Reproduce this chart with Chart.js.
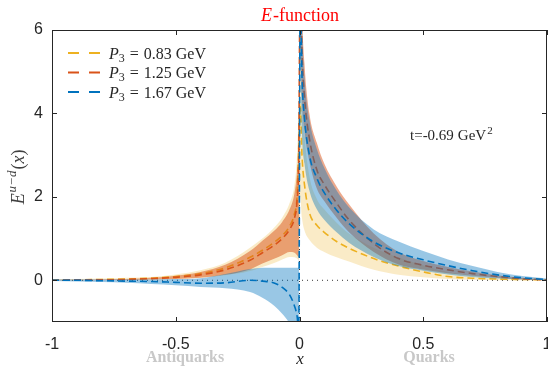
<!DOCTYPE html>
<html><head><meta charset="utf-8">
<script src="https://cdn.jsdelivr.net/npm/chart.js@4"></script>
<style>html,body{margin:0;padding:0;background:#fff}#wrap{width:548px;height:367px}</style>
</head><body><div id="wrap"><canvas id="c" width="548" height="367"></canvas></div>
<script>
// ---- data ----
const xAnti  = [-1,-0.9,-0.8,-0.7,-0.6,-0.5,-0.4,-0.3,-0.2,-0.15,-0.1,-0.07,-0.04,-0.02,-0.01,-0.003];
const xQuark = [0.003,0.01,0.02,0.04,0.07,0.1,0.15,0.2,0.3,0.4,0.5,0.6,0.7,0.8,0.9,1.0];

const p083Mid = [0.01,0.01,0.02,0.03,0.05,0.09,0.16,0.3,0.55,0.72,0.92,1.07,1.3,1.6,2.0,3.2,
                 4.2,3.0,2.3,1.62,1.32,1.15,0.93,0.77,0.52,0.34,0.2,0.09,0.05,0.03,0.02,0.01];
const p083Hi  = [0.03,0.03,0.04,0.06,0.08,0.14,0.24,0.42,0.78,1.0,1.28,1.5,1.85,2.3,3.0,4.3,
                 6.5,4.6,3.5,2.5,1.95,1.7,1.38,1.12,0.78,0.55,0.36,0.2,0.12,0.07,0.04,0.02];
const p083Lo  = [0,0,0.01,0.01,0.02,0.03,0.06,0.12,0.22,0.32,0.42,0.5,0.56,0.55,0.52,0.48,
                 2.0,1.5,1.2,0.97,0.78,0.68,0.55,0.45,0.25,0.13,0.07,0.03,0.01,0,0,0];

const p125Mid = [0,0.01,0.01,0.02,0.04,0.07,0.13,0.25,0.48,0.66,0.85,1.0,1.22,1.5,1.9,3.0,
                 7.5,5.5,4.4,3.4,2.65,2.3,1.85,1.45,0.88,0.52,0.36,0.25,0.16,0.09,0.04,0.01];
const p125Hi  = [0.01,0.01,0.02,0.03,0.06,0.11,0.2,0.37,0.7,0.95,1.2,1.4,1.7,2.1,2.6,3.6,
                 9,6.5,5.2,4.0,3.3,2.8,2.25,1.82,1.12,0.68,0.46,0.32,0.21,0.12,0.06,0.02];
const p125Lo  = [0,0,0,0.01,0.02,0.03,0.06,0.13,0.26,0.4,0.52,0.6,0.68,0.66,0.6,0.55,
                 6,4.4,3.6,2.85,2.2,1.9,1.5,1.15,0.68,0.38,0.26,0.17,0.11,0.06,0.02,0];

const p167Mid = [0,0,-0.01,-0.02,-0.03,-0.05,-0.07,-0.06,0.0,-0.02,-0.07,-0.17,-0.35,-0.62,-0.85,-1.2,
                 7,4.9,3.9,3.0,2.45,2.1,1.68,1.36,0.92,0.66,0.49,0.35,0.23,0.13,0.06,0.02];
const p167Hi  = [0.02,0.02,0.02,0.02,0.02,0.03,0.05,0.15,0.27,0.3,0.3,0.3,0.3,0.3,0.3,0.3,
                 8.5,6.2,4.9,3.85,3.15,2.7,2.15,1.75,1.22,0.93,0.7,0.5,0.34,0.2,0.1,0.04];
const p167Lo  = [-0.02,-0.03,-0.04,-0.06,-0.09,-0.12,-0.16,-0.19,-0.28,-0.42,-0.62,-0.8,-1.05,-1.4,-1.8,-2.5,
                 5.2,3.5,2.8,2.15,1.7,1.45,1.15,0.9,0.56,0.34,0.23,0.14,0.08,0.04,0.02,0];

const seriesLabels = ['0.83','1.25','1.67'];
const xTicks = [-1,-0.5,0,0.5,1];
const xTickLabels = ['-1','-0.5','0','0.5','1'];
const yTicks = [0,2,4,6];
const zeroLineX = [-1,1];
const zeroLineY = [0,0];
const axisLineX = [0,0];
const axisLineY = [-1,6];

// ---- build ----
const xs = xAnti.concat(xQuark);
const pts = arr => arr.map((v,i)=>({x:xs[i], y:v}));
const lineColors = ['#EDB120','#D95319','#0072BD'];
const bandColors = ['rgba(237,177,32,0.25)','rgba(217,83,25,0.5)','rgba(0,114,189,0.4)'];
const mids=[p083Mid,p125Mid,p167Mid], his=[p083Hi,p125Hi,p167Hi], los=[p083Lo,p125Lo,p167Lo];

const datasets = [];
for (let s=0;s<3;s++){
  const base = 30 - s*10;
  datasets.push({data:pts(his[s]), borderWidth:0, pointRadius:0, fill:false, cubicInterpolationMode:'monotone', order:base});
  datasets.push({data:pts(los[s]), borderWidth:0, pointRadius:0, fill:'-1', backgroundColor:bandColors[s], cubicInterpolationMode:'monotone', order:base});
  datasets.push({data:pts(mids[s]), borderColor:lineColors[s], borderWidth:1.6, borderDash:[7,4], pointRadius:0, fill:false, cubicInterpolationMode:'monotone', order:base-1});
}
datasets.push({data:zeroLineX.map((v,i)=>({x:v,y:zeroLineY[i]})), borderColor:'#333', borderWidth:1, borderDash:[1,4], pointRadius:0, fill:false, order:40});
datasets.push({data:axisLineX.map((v,i)=>({x:v,y:axisLineY[i]})), borderColor:'#333', borderWidth:1, borderDash:[1,3], pointRadius:0, fill:false, order:40});

const SERIF = '"Liberation Serif","DejaVu Serif",serif';
const SANS = '"Liberation Sans",Arial,sans-serif';

function runs(ctx, parts, x0, y0){
  let px=x0;
  parts.forEach(p=>{ctx.font=p[0]+SERIF; ctx.fillText(p[1],px,y0+(p[2]||0)); px+=ctx.measureText(p[1]).width+(p[3]||0);});
  return px;
}
function runsWidth(ctx, parts){
  let w=0; parts.forEach(p=>{ctx.font=p[0]+SERIF; w+=ctx.measureText(p[1]).width+(p[3]||0);}); return w;
}

const deco = {
  id:'deco',
  afterDraw(chart){
    const {ctx, chartArea:ca, scales:{x,y}} = chart;
    ctx.save();
    ctx.strokeStyle='#262626'; ctx.lineWidth=1; ctx.setLineDash([]);
    ctx.strokeRect(ca.left+0.5, ca.top+0.5, ca.right-ca.left-1, ca.bottom-ca.top-1);
    ctx.beginPath();
    xTicks.forEach(v=>{const p=Math.round(x.getPixelForValue(v))+0.5;
      ctx.moveTo(p,ca.bottom); ctx.lineTo(p,ca.bottom-5); ctx.moveTo(p,ca.top); ctx.lineTo(p,ca.top+5);});
    yTicks.forEach(v=>{const p=Math.round(y.getPixelForValue(v))+0.5;
      ctx.moveTo(ca.left,p); ctx.lineTo(ca.left+5,p); ctx.moveTo(ca.right,p); ctx.lineTo(ca.right-5,p);});
    ctx.stroke();
    ctx.textBaseline='alphabetic';

    // title
    ctx.fillStyle='#FF0000';
    const tparts=[['italic 18px ','E',0,1],['18px ','-function',0,0]];
    runs(ctx,tparts,300-runsWidth(ctx,tparts)/2,21);

    // legend
    for(let s=0;s<3;s++){
      const ly=53+s*19.5;
      ctx.strokeStyle=lineColors[s]; ctx.lineWidth=2; ctx.setLineDash([11,10]);
      ctx.beginPath(); ctx.moveTo(68,ly); ctx.lineTo(101,ly); ctx.stroke();
      ctx.setLineDash([]);
      ctx.fillStyle='#262626';
      runs(ctx,[['italic 16px ','P',0,0],['12px ','3',3,5],['16px ','=',0,5],['16px ',seriesLabels[s],0,4],['16px ','GeV',0,0]],109,ly+5.5);
    }

    // annotation
    ctx.fillStyle='#262626';
    runs(ctx,[['15px ','t=-0.69',0,4],['15px ','GeV',0,1],['11px ','2',-6,0]],410,140);

    // y title
    ctx.save(); ctx.translate(24,177); ctx.rotate(-Math.PI/2);
    ctx.fillStyle='#404040';
    const yparts=[['italic 18px ','E',0,1],['italic 13px ','u\u2212d',-8,1],['18px ','(',0,0],['italic 18px ','x',0,0],['18px ',')',0,0]];
    runs(ctx,yparts,-runsWidth(ctx,yparts)/2,0);
    ctx.restore();

    // x title and region labels
    ctx.textAlign='center';
    ctx.fillStyle='#262626'; ctx.font='italic 17px '+SERIF; ctx.fillText('x',300,364);
    ctx.fillStyle='#C8C8C8'; ctx.font='bold 16px '+SERIF;
    ctx.fillText('Antiquarks',185,362); ctx.fillText('Quarks',429,362);
    ctx.restore();
  }
};

new Chart(document.getElementById('c'),{
  type:'line',
  data:{datasets},
  options:{
    responsive:false, animation:false,
    layout:{padding:{left:0,right:1,top:30,bottom:0}},
    plugins:{legend:{display:false},title:{display:false},tooltip:{enabled:false},filler:{propagate:false}},
    scales:{
      x:{type:'linear',min:-1,max:1,
        afterBuildTicks:s=>{s.ticks=xTicks.map(v=>({value:v}));},
        afterFit:s=>{s.height=45; s.paddingLeft=0; s.paddingRight=0;},
        grid:{display:true,drawOnChartArea:false,drawTicks:false},
        border:{display:false},
        ticks:{padding:13,color:'#262626',font:{family:SANS,size:16},maxRotation:0,autoSkip:false,
          callback:(v)=>{const i=xTicks.indexOf(v);return i>=0?xTickLabels[i]:'';}}},
      y:{type:'linear',min:-1,max:6,
        afterBuildTicks:s=>{s.ticks=yTicks.map(v=>({value:v}));},
        afterFit:s=>{s.width=52; s.paddingTop=0; s.paddingBottom=0;},
        grid:{display:true,drawOnChartArea:false,drawTicks:false},
        border:{display:false},
        ticks:{padding:9,color:'#262626',font:{family:SANS,size:16},
          callback:(v)=>String(v)}}
    }
  },
  plugins:[deco]
});
</script></body></html>
